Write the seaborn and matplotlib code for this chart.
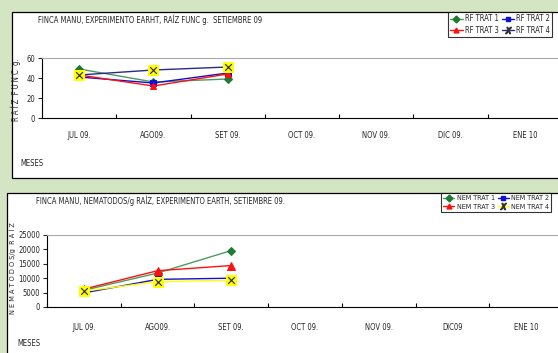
import matplotlib
matplotlib.use("Agg")
import matplotlib.pyplot as plt
import matplotlib.patches as mpatches
from matplotlib.lines import Line2D
import seaborn as sns
import numpy as np
from matplotlib import font_manager

sns.set_style("white")
names = {f.name for f in font_manager.fontManager.ttflist}
if 'Liberation Sans Narrow' in names:
    plt.rcParams['font.family'] = ['Liberation Sans Narrow', 'DejaVu Sans']
    FS = 6.5
else:
    plt.rcParams['font.family'] = ['DejaVu Sans']
    plt.rcParams['font.stretch'] = 'condensed'
    FS = 5.5

months = ["JUL 09.", "AGO09.", "SET 09.", "OCT 09.", "NOV 09.", "DIC 09.", "ENE 10"]
months_b = ["JUL 09.", "AGO09.", "SET 09.", "OCT 09.", "NOV 09.", "DIC09", "ENE 10"]

rf_names = ["RF TRAT 1", "RF TRAT 2", "RF TRAT 3", "RF TRAT 4"]
rf_t1 = [49, 36, 39]
rf_t2 = [41, 35, 45]
rf_t3 = [43, 32, 44]
rf_t4 = [43, 48, 51]

nem_names = ["NEM TRAT 1", "NEM TRAT 2", "NEM TRAT 3", "NEM TRAT 4"]
nem_t1 = [5800, 11800, 19600]
nem_t2 = [4900, 9600, 10000]
nem_t3 = [6200, 12600, 14400]
nem_t4 = [5500, 8800, 9300]

W, H = 558, 353
fig = plt.figure(figsize=(W/100, H/100), dpi=100)
fig.patch.set_facecolor('#d3e5c2')

def px(x0, y0, x1, y1):
    return [x0/W, 1-y1/H, (x1-x0)/W, (y1-y0)/H]

# white panel boxes
for (x0, y0, x1, y1) in [(12, 12, 570, 178), (7, 193, 570, 365)]:
    r = mpatches.Rectangle((x0/W, 1-y1/H), (x1-x0)/W, (y1-y0)/H,
                           transform=fig.transFigure, facecolor='white',
                           edgecolor='black', linewidth=0.9, zorder=-5)
    fig.patches.append(r)

green_l = '#4f9a63'; green_m = '#1f7a32'
blue = '#1010d0'; red = '#ff1010'; navy = '#2a2a88'; yellow = '#ffff00'

def draw(ax, series, styles, ylim, yticks, labels):
    x = np.arange(3)
    for vals, (lc, mk, mfc, ms) in zip(series, styles):
        if mk == 'X':
            sns.lineplot(x=x, y=vals, ax=ax, color=lc, linewidth=1.0, marker='s',
                         markersize=ms, markerfacecolor=yellow, markeredgecolor=yellow, zorder=3)
            ax.scatter(x, vals, marker='x', s=ms*3.5, color='#222222', linewidths=0.8, zorder=4)
        else:
            sns.lineplot(x=x, y=vals, ax=ax, color=lc, linewidth=1.0, marker=mk,
                         markersize=ms, markerfacecolor=mfc, markeredgecolor=mfc, zorder=3)
    ax.set_xlim(-0.5, 6.5)
    ax.set_ylim(*ylim)
    ax.set_yticks(yticks)
    ax.set_yticklabels([str(v) for v in yticks], fontsize=FS)
    ax.set_xticks(np.arange(-0.5, 7, 1))
    ax.set_xticklabels([])
    ax.set_xlabel(''); ax.set_ylabel('')
    for i, m in enumerate(labels):
        ax.text(i, -0.22, m, transform=ax.get_xaxis_transform(), ha='center', va='top', fontsize=FS)
    ax.tick_params(axis='x', direction='in', length=3, width=0.8, colors='black', bottom=True)
    ax.tick_params(axis='y', direction='out', length=3, width=0.8, left=True, pad=2)
    ax.spines['right'].set_visible(False)
    ax.spines['top'].set_color('#aaaaaa')
    ax.spines['left'].set_color('black')
    ax.spines['bottom'].set_color('black')
    for s in ['left', 'bottom']:
        ax.spines[s].set_linewidth(0.8)
    ax.patch.set_alpha(0)
    ax.set_zorder(2)

# top
ax1 = fig.add_axes(px(42, 58, 562, 118))
draw(ax1, [rf_t1, rf_t2, rf_t3, rf_t4],
     [(green_l, 'D', green_m, 4), (blue, 's', blue, 4.5), (red, '^', red, 5), (navy, 'X', None, 6.5)],
     (0, 60), [0, 20, 40, 60], months)
fig.text(150/W, 1-20/H, "FINCA MANU, EXPERIMENTO EARHT, RAÍZ FUNC g.  SETIEMBRE 09", ha='center', va='center', fontsize=FS)
fig.text(16/W, 1-90/H, "R A Í Z  F U N C  g.", rotation=90, ha='center', va='center', fontsize=FS)
fig.text(20/W, 1-163/H, "MESES", ha='left', va='center', fontsize=FS)

# bottom
ax2 = fig.add_axes(px(47, 235, 563, 307))
draw(ax2, [nem_t1, nem_t2, nem_t3, nem_t4],
     [(green_l, 'D', green_m, 4.5), (blue, 's', blue, 4.5), (red, '^', red, 5.5), (yellow, 'X', None, 6.5)],
     (0, 25000), [0, 5000, 10000, 15000, 20000, 25000], months_b)
fig.text(160/W, 1-201/H, "FINCA MANU, NEMATODOS/g RAÍZ, EXPERIMENTO EARTH, SETIEMBRE 09.", ha='center', va='center', fontsize=FS)
fig.text(12/W, 1-268/H, "N E M A T O D O S/g  R A Í Z", rotation=90, ha='center', va='center', fontsize=FS-0.3)
fig.text(17/W, 1-343/H, "MESES", ha='left', va='center', fontsize=FS)

def legend(names, styles4, box, fs):
    handles = []
    for n, (lc, mk, mfc) in zip(names, styles4):
        if mk == 'X':
            handles.append(Line2D([], [], color=lc, lw=1.0, marker='$X$', markersize=4.5,
                                  markerfacecolor='#333333', markeredgecolor='#333333'))
        else:
            handles.append(Line2D([], [], color=lc, lw=1.0, marker=mk, markersize=3.5,
                                  markerfacecolor=mfc, markeredgecolor=mfc))
    order = [handles[0], handles[2], handles[1], handles[3]]
    labs = [names[0], names[2], names[1], names[3]]
    x0, y0 = box
    leg = fig.legend(order, labs, ncol=2, loc='upper left', bbox_to_anchor=(x0/W, 1-y0/H),
                     fontsize=fs, frameon=True, fancybox=False, handlelength=1.6,
                     handletextpad=0.3, columnspacing=0.4, labelspacing=0.35,
                     borderpad=0.3, borderaxespad=0)
    leg.get_frame().set_edgecolor('black')
    leg.get_frame().set_linewidth(0.8)

legend(rf_names, [(green_l, 'D', green_m), (blue, 's', blue), (red, '^', red), (navy, 'X', None)], (448, 12), FS)
legend(nem_names, [(green_l, 'D', green_m), (blue, 's', blue), (red, '^', red), (yellow, 'X', None)], (441, 193), FS - 0.4)

fig.savefig("out.png", dpi=100, facecolor=fig.get_facecolor())
